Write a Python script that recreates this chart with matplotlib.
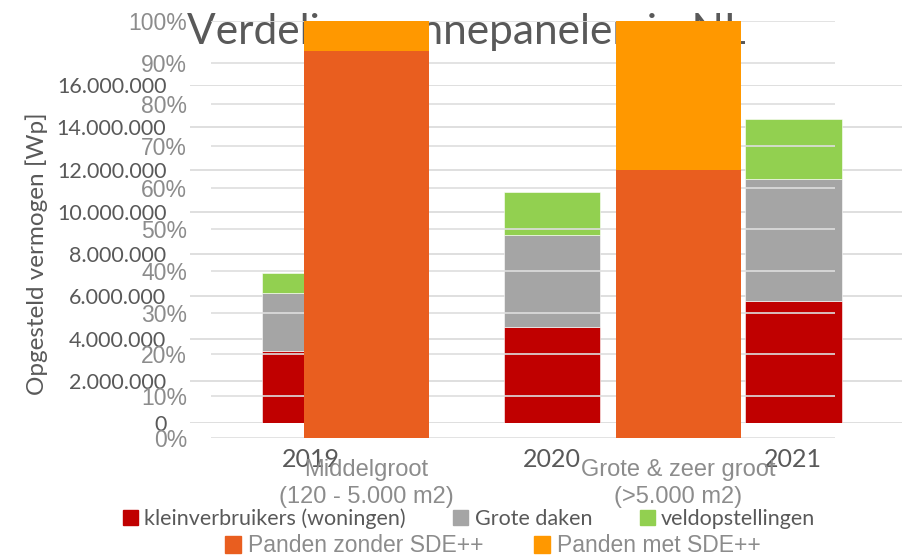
import matplotlib.pyplot as plt
import numpy as np
from matplotlib.patches import Patch

# chart 1: opgesteld vermogen per jaar (Wp)
years = ["2019", "2020", "2021"]
kleinverbruikers = [3420000, 4570000, 5790000]
grote_daken = [2730000, 4340000, 5760000]
veldopstellingen = [980000, 2030000, 2850000]

# chart 2: aandeel panden met / zonder SDE++
categorieen = ["Middelgroot\n(120 - 5.000 m2)", "Grote & zeer groot\n(>5.000 m2)"]
zonder_sde = [92.8, 64.3]
met_sde = [7.2, 35.7]

dark = "#595959"
light = "#8c8c8c"
calibri = ["Lato", "DejaVu Sans"]
narrow = ["Liberation Sans Narrow", "Liberation Sans", "DejaVu Sans"]

fig = plt.figure(figsize=(9.02, 5.58), dpi=100)

# --- chart 1 (underneath) ---
ax1 = fig.add_axes([190/902, 134.7/558, 724/902, 338.3/558])
x1 = np.arange(len(years))
b1 = ax1.bar(x1, kleinverbruikers, 0.4, color="#C00000", zorder=3, edgecolor="white", linewidth=0.4)
b2 = ax1.bar(x1, grote_daken, 0.4, bottom=kleinverbruikers, color="#A5A5A5", zorder=3, edgecolor="white", linewidth=0.4)
bot = np.array(kleinverbruikers) + np.array(grote_daken)
b3 = ax1.bar(x1, veldopstellingen, 0.4, bottom=bot, color="#92D050", zorder=3, edgecolor="white", linewidth=0.4)
ax1.set_xlim(-0.5, 2.5)
ax1.set_ylim(0, 16000000)
ax1.set_yticks(np.arange(0, 16000001, 2000000))
ax1.set_yticklabels([f"{v:,}".replace(",", ".") for v in range(0, 16000001, 2000000)],
                    fontsize=15.5, color=dark, family=calibri)
ax1.set_xticks(x1)
ax1.set_xticklabels(years, fontsize=18, color=dark, family=calibri)
ax1.tick_params(length=0, axis="y", pad=17)
ax1.tick_params(length=0, axis="x", pad=18)
ax1.grid(axis="y", color="#d9d9d9", linewidth=1.2, zorder=0)
for s in ax1.spines.values():
    s.set_visible(False)
ax1.set_ylabel("Opgesteld vermogen [Wp]", fontsize=17.5, color=dark, family=calibri, labelpad=6)
# title belongs to chart 1, so chart 2's bars cover it
ax1.text(466/902, 1 - 32/558, "Verdeling zonnepanelen in NL", ha="center", va="center",
         fontsize=30.5, color=dark, family=calibri, transform=fig.transFigure, clip_on=False)

# --- chart 2 (on top) ---
ax2 = fig.add_axes([210.5/902, 120.3/558, 624/902, 416.7/558])
ax2.patch.set_alpha(0)
x2 = np.arange(len(categorieen))
c1 = ax2.bar(x2, zonder_sde, 0.4, color="#E95E1F", zorder=3)
c2 = ax2.bar(x2, met_sde, 0.4, bottom=zonder_sde, color="#FF9800", zorder=3)
ax2.set_xlim(-0.5, 1.5)
ax2.set_ylim(0, 100)
ax2.set_yticks(range(0, 101, 10))
ax2.set_yticklabels([f"{v}%" for v in range(0, 101, 10)], fontsize=16.5, color=light, family=narrow)
ax2.set_xticks(x2)
ax2.set_xticklabels(categorieen, fontsize=17, color=light, family=narrow, linespacing=1.3)
ax2.tick_params(length=0, axis="y", pad=17)
ax2.tick_params(length=0, axis="x", pad=15)
ax2.grid(axis="y", color="#dedede", linewidth=1.2, zorder=1)
for s in ax2.spines.values():
    s.set_visible(False)

# legends
leg1 = fig.legend([Patch(color="#C00000"), Patch(color="#A5A5A5"), Patch(color="#92D050")],
                  ["kleinverbruikers (woningen)", "Grote daken", "veldopstellingen"],
                  loc="center", bbox_to_anchor=(469/902, 1 - 519/558), ncol=3, frameon=False,
                  handlelength=0.7, handleheight=0.7, handletextpad=0.3, columnspacing=2.2,
                  prop={"family": calibri, "size": 15.5})
for t in leg1.get_texts():
    t.set_color(dark)
leg2 = fig.legend([Patch(color="#E95E1F"), Patch(color="#FF9800")],
                  ["Panden zonder SDE++", "Panden met SDE++"],
                  loc="center", bbox_to_anchor=(493/902, 1 - 546/558), ncol=2, frameon=False,
                  handlelength=0.7, handleheight=0.7, handletextpad=0.3, columnspacing=2.2,
                  prop={"family": narrow, "size": 16.5})
for t in leg2.get_texts():
    t.set_color(light)

fig.savefig("out.png", dpi=100)
